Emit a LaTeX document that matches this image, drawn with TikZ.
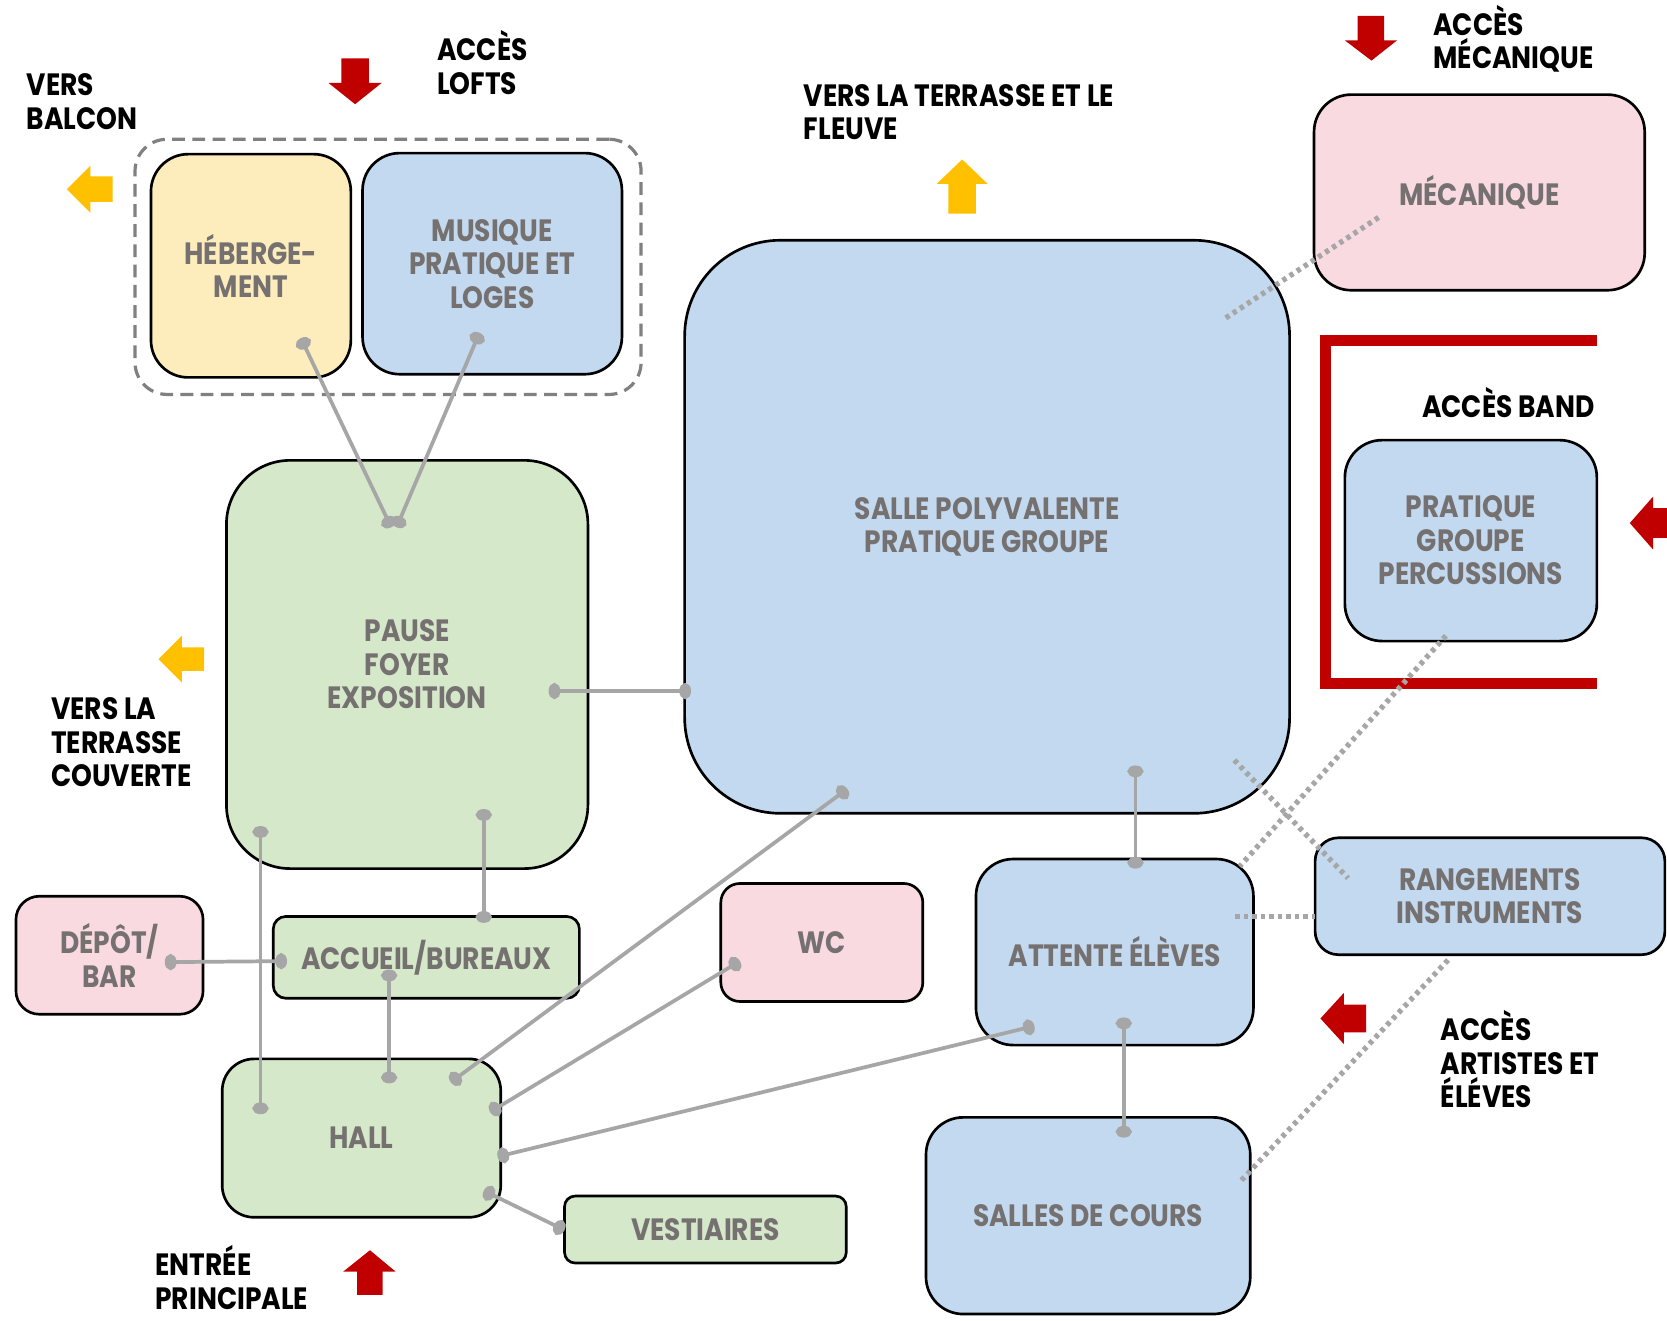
\documentclass[tikz,border=0pt]{standalone}
\usepackage{fontspec}
\setmainfont{Poppins}[FakeStretch=0.86]
\usetikzlibrary{arrows.meta}
\definecolor{cgreen}{HTML}{D5E8CA}
\definecolor{cblue}{HTML}{C3D9EF}
\definecolor{cpink}{HTML}{F9DAE1}
\definecolor{cyellow}{HTML}{FEEDBC}
\definecolor{ctext}{HTML}{767171}
\definecolor{cline}{HTML}{A6A6A6}
\definecolor{cred}{HTML}{C00000}
\definecolor{cgold}{HTML}{FFC000}
\newcommand\roomfont{\fontsize{29}{31.5}\selectfont\bfseries}
\newcommand\twolines[2]{\vtop{\hbox{#1}\hbox{#2}}}
\newcommand\threelines[3]{\vtop{\hbox{#1}\hbox{#2}\hbox{#3}}}
\begin{document}
\begin{tikzpicture}[x=1pt,y=-1pt,
  room/.style={draw=black, line width=2.5pt, align=center, inner sep=0pt, text=ctext, font=\roomfont},
  lbl/.style={anchor=base west, inner sep=0pt, font=\roomfont, text=black},
  link/.style={draw=cline, line width=3.5pt, {Ellipse[length=11pt,width=15pt]}-{Ellipse[length=11pt,width=15pt]}},
  dotlink/.style={draw=cline, line width=5pt, dash pattern=on 4pt off 4pt},
  redarrow/.style={fill=cred, draw=none},
  goldarrow/.style={fill=cgold, draw=none}]
\useasboundingbox (0,0) rectangle (1568,1242);
\fill[white] (0,0) rectangle (1568,1242);

% group box
\node[draw=black!50, line width=3pt, dash pattern=on 12pt off 7pt, rounded corners=30pt,
  minimum width=476pt, minimum height=240pt, inner sep=0pt] (lofts) at (365,251) {};

% rooms
\node[room, fill=cyellow, rounded corners=35pt, minimum width=188pt, minimum height=210pt] (heb) at (236,250) {HÉBERGE-\\MENT};
\node[room, fill=cblue, rounded corners=35pt, minimum width=244pt, minimum height=208pt] (mus) at (463,248) {MUSIQUE\\PRATIQUE ET\\LOGES};
\node[room, fill=cgreen, rounded corners=60pt, minimum width=340pt, minimum height=384pt] (pause) at (383,625) {PAUSE\\FOYER\\EXPOSITION};
\node[room, fill=cblue, rounded corners=90pt, minimum width=569pt, minimum height=539pt] (salle) at (928.5,495.5) {SALLE POLYVALENTE\\PRATIQUE GROUPE};
\node[room, fill=cpink, rounded corners=35pt, minimum width=311pt, minimum height=184pt] (meca) at (1391.5,181) {MÉCANIQUE};
\node[room, fill=cblue, rounded corners=35pt, minimum width=237pt, minimum height=189pt] (perc) at (1383.5,508.5) {PRATIQUE\\GROUPE\\PERCUSSIONS};
\node[room, fill=cblue, rounded corners=22pt, minimum width=329pt, minimum height=110pt] (rang) at (1401.5,843) {RANGEMENTS\\INSTRUMENTS};
\node[room, fill=cblue, rounded corners=35pt, minimum width=261pt, minimum height=175pt] (att) at (1048.5,895.5) {ATTENTE ÉLÈVES};
\node[room, fill=cblue, rounded corners=35pt, minimum width=305pt, minimum height=185pt] (cours) at (1023.5,1143.5) {SALLES DE COURS};
\node[room, fill=cpink, rounded corners=18pt, minimum width=190pt, minimum height=111pt] (wc) at (773,886.5) {WC};
\node[room, fill=cgreen, rounded corners=12pt, minimum width=288pt, minimum height=77pt] (acc) at (401,900.5) {ACCUEIL/BUREAUX};
\node[room, fill=cpink, rounded corners=22pt, minimum width=176pt, minimum height=111pt] (depot) at (103,898.5) {DÉPÔT/\\BAR};
\node[room, fill=cgreen, rounded corners=30pt, minimum width=262pt, minimum height=149pt] (hall) at (340,1070.5) {HALL};
\node[room, fill=cgreen, rounded corners=10pt, minimum width=265pt, minimum height=63pt] (vest) at (663.5,1156.5) {VESTIAIRES};

% red bracket
\draw[cred, line width=10pt] (1502,320) -- (1247,320) -- (1247,643) -- (1502,643);

% solid links
\draw[link] ([shift={(47,68)}]heb.center) -- ([shift={(-15,-129)}]pause.center);
\draw[link] ([shift={(-12,65)}]mus.center) -- ([shift={(-10,-129)}]pause.center);
\draw[link] ([shift={(133,25)}]pause.center) -- ([shift={(-278.5,154.5)}]salle.center);
\draw[link] ([shift={(-138,152)}]pause.center) -- ([shift={(-95,-22.5)}]hall.center);
\draw[link] ([shift={(72,136)}]pause.center) -- ([shift={(54,-32.5)}]acc.center);
\draw[link] ([shift={(52,6.5)}]depot.center) -- ([shift={(-131,3.5)}]acc.center);
\draw[link] ([shift={(-35,11.5)}]acc.center) -- ([shift={(26,-51.5)}]hall.center);
\draw[link] ([shift={(84,-52.5)}]hall.center) -- ([shift={(-131.5,246.5)}]salle.center);
\draw[link] ([shift={(121,-24.5)}]hall.center) -- ([shift={(-77,17.5)}]wc.center);
\draw[link] ([shift={(128,17.5)}]hall.center) -- ([shift={(-75.5,69.5)}]att.center);
\draw[link] ([shift={(115,49.5)}]hall.center) -- ([shift={(-132.5,0.5)}]vest.center);
\draw[link] ([shift={(139.5,224.5)}]salle.center) -- ([shift={(19.5,-78.5)}]att.center);
\draw[link] ([shift={(8.5,61.5)}]att.center) -- ([shift={(33.5,-73.5)}]cours.center);

% dotted links
\draw[dotlink] ([shift={(224.5,-196.5)}]salle.center) -- ([shift={(-92.5,22)}]meca.center);
\draw[dotlink] ([shift={(-23.5,89.5)}]perc.center) -- ([shift={(117.5,-80.5)}]att.center);
\draw[dotlink] ([shift={(232.5,219.5)}]salle.center) -- ([shift={(-133.5,-17)}]rang.center);
\draw[dotlink] ([shift={(113.5,-33.5)}]att.center) -- ([shift={(-164.5,19)}]rang.center);
\draw[dotlink] ([shift={(-39.5,60)}]rang.center) -- ([shift={(142.5,-31.5)}]cours.center);

% block arrows
\fill[goldarrow] (63,178) -- (85,156) -- (85,166) -- (106,166) -- (106,190) -- (85,190) -- (85,200) -- cycle;
\fill[goldarrow] (149,620) -- (171,598) -- (171,609) -- (192,609) -- (192,631) -- (171,631) -- (171,642) -- cycle;
\fill[goldarrow] (905,150) -- (929,173) -- (918,173) -- (918,201) -- (892,201) -- (892,173) -- (881,173) -- cycle;
\fill[redarrow] (334,98) -- (309,78) -- (321,78) -- (321,55) -- (347,55) -- (347,78) -- (359,78) -- cycle;
\fill[redarrow] (1290,57) -- (1265,38) -- (1277,38) -- (1277,15) -- (1302,15) -- (1302,38) -- (1314,38) -- cycle;
\fill[redarrow] (348,1176) -- (372,1196) -- (360,1196) -- (360,1218) -- (336,1218) -- (336,1196) -- (323,1196) -- cycle;
\fill[redarrow] (1242,958) -- (1264,934) -- (1264,945) -- (1285,945) -- (1285,971) -- (1264,971) -- (1264,982) -- cycle;
\fill[redarrow] (1533,492) -- (1555,467) -- (1555,478) -- (1580,478) -- (1580,506) -- (1555,506) -- (1555,517) -- cycle;

% labels
\node[lbl] (lbalcon) at (25,90) {\twolines{VERS}{BALCON}};
\node[lbl] (llofts) at (411,57) {\twolines{ACCÈS}{LOFTS}};
\node[lbl] (lfleuve) at (756,100) {\twolines{VERS LA TERRASSE ET LE}{FLEUVE}};
\node[lbl] (lmeca) at (1348,33) {\twolines{ACCÈS}{MÉCANIQUE}};
\node[lbl, anchor=base east] (lband) at (1500,393) {ACCÈS BAND};
\node[lbl] (lcouv) at (48,677) {\threelines{VERS LA}{TERRASSE}{COUVERTE}};
\node[lbl] (lentree) at (146,1200) {\twolines{ENTRÉE}{PRINCIPALE}};
\node[lbl] (lartistes) at (1355,979) {\threelines{ACCÈS}{ARTISTES ET}{ÉLÉVES}};
\end{tikzpicture}
\end{document}
